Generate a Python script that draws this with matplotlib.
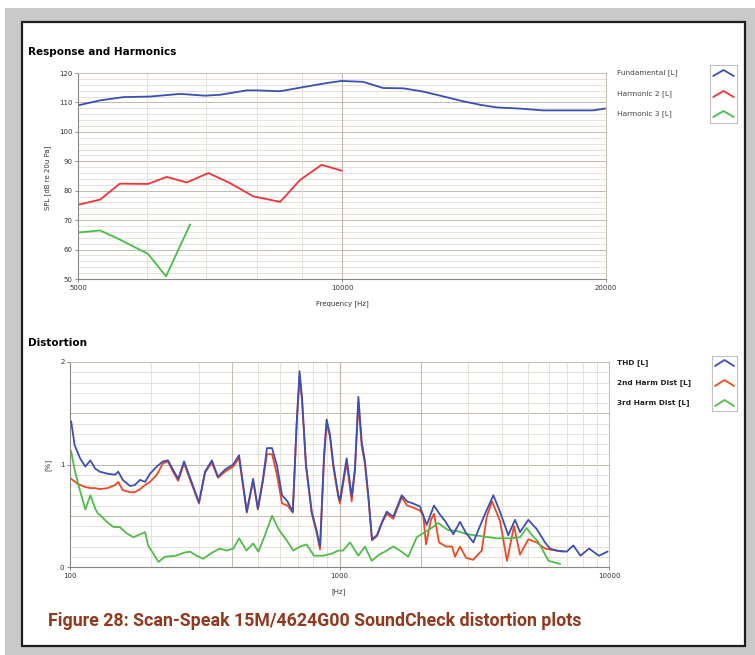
import matplotlib

matplotlib.use("Agg")
import matplotlib.pyplot as plt
from matplotlib.patches import Rectangle
from matplotlib.ticker import NullLocator

W, H = 755, 655

# --- Response and Harmonics (Hz, dB SPL) ---
fund_hz = [5000, 5300, 5630, 6040, 6540, 6980, 7260, 7790, 7990, 8500, 9030, 9610, 9990,
           10570, 11140, 11740, 12370, 12940, 13740, 14370, 15020, 15960, 16950, 17870, 19330, 19950]
fund_db = [109.0, 110.7, 111.8, 112.0, 112.9, 112.3, 112.6, 114.1, 114.1, 113.8, 115.2, 116.6, 117.3,
           117.0, 114.9, 114.8, 113.7, 112.3, 110.4, 109.2, 108.3, 107.9, 107.3, 107.3, 107.3, 107.9]
h2_hz = [5000, 5300, 5580, 6010, 6310, 6650, 7040, 7450, 7920, 8500, 8960, 9480, 9990]
h2_db = [75.2, 77.0, 82.4, 82.3, 84.7, 82.8, 86.0, 82.6, 78.1, 76.2, 83.7, 88.8, 86.8]
h3_hz = [5000, 5300, 5580, 6010, 6300, 6710]
h3_db = [65.8, 66.5, 63.4, 58.5, 50.9, 68.5]

# --- Distortion (Hz, %) ---
thd_hz = [101, 104, 109, 114, 119, 124, 129, 138, 147, 151, 157, 167, 174, 182, 190, 198, 210, 221,
          231, 241, 252, 265, 279, 301, 317, 336, 354, 376, 403, 424, 453, 478, 498, 520, 538, 562,
          586, 612, 641, 671, 694, 711, 726, 751, 789, 818, 847, 876, 896, 922, 949, 990, 1004, 1063,
          1110, 1141, 1175, 1209, 1243, 1279, 1320, 1377, 1438, 1497, 1583, 1702, 1781, 1874, 1989,
          2107, 2242, 2360, 2463, 2645, 2800, 2935, 3137, 3418, 3722, 3940, 4229, 4480, 4676, 5019,
          5393, 5787, 6040, 6397, 6968, 7373, 7840, 8430, 9182, 9872]
thd_pct = [1.42, 1.19, 1.06, 0.98, 1.04, 0.96, 0.93, 0.91, 0.90, 0.93, 0.85, 0.79, 0.80, 0.85, 0.83,
           0.91, 0.98, 1.03, 1.04, 0.95, 0.86, 1.03, 0.87, 0.63, 0.93, 1.04, 0.88, 0.95, 1.00, 1.09,
           0.54, 0.86, 0.57, 0.86, 1.16, 1.16, 0.99, 0.70, 0.64, 0.54, 1.42, 1.91, 1.65, 1.00, 0.54,
           0.38, 0.20, 1.09, 1.44, 1.29, 1.00, 0.70, 0.65, 1.06, 0.69, 0.96, 1.66, 1.22, 1.03, 0.70,
           0.27, 0.31, 0.44, 0.54, 0.49, 0.70, 0.64, 0.62, 0.59, 0.41, 0.60, 0.51, 0.45, 0.32, 0.44,
           0.34, 0.24, 0.48, 0.70, 0.54, 0.31, 0.46, 0.34, 0.46, 0.37, 0.24, 0.18, 0.16, 0.15, 0.21,
           0.11, 0.18, 0.11, 0.15]
d2_hz = [101, 107, 114, 119, 124, 129, 138, 147, 151, 157, 167, 174, 182, 190, 198, 210, 221, 231,
         241, 252, 265, 279, 301, 317, 336, 354, 376, 403, 424, 453, 478, 498, 520, 538, 562, 586,
         612, 641, 671, 694, 711, 726, 751, 789, 818, 847, 876, 896, 922, 949, 990, 1004, 1063, 1110,
         1141, 1175, 1209, 1243, 1279, 1320, 1377, 1438, 1497, 1583, 1702, 1781, 1874, 1989, 2046,
         2094, 2185, 2242, 2340, 2485, 2615, 2683, 2800, 2948, 3130, 3371, 3518, 3681, 3940, 4183,
         4442, 4676, 5019, 5393, 5787, 6040, 6397, 6750]
d2_pct = [0.86, 0.81, 0.78, 0.77, 0.77, 0.76, 0.77, 0.80, 0.83, 0.75, 0.73, 0.73, 0.76, 0.80, 0.83,
          0.90, 1.01, 1.03, 0.93, 0.84, 1.01, 0.85, 0.62, 0.92, 1.02, 0.87, 0.93, 0.98, 1.06, 0.53,
          0.84, 0.56, 0.84, 1.10, 1.10, 0.90, 0.62, 0.60, 0.53, 1.40, 1.85, 1.62, 0.98, 0.52, 0.36,
          0.17, 1.05, 1.40, 1.27, 0.97, 0.68, 0.62, 1.02, 0.64, 0.94, 1.60, 1.18, 1.00, 0.68, 0.26,
          0.30, 0.43, 0.52, 0.47, 0.68, 0.60, 0.58, 0.55, 0.50, 0.22, 0.46, 0.52, 0.24, 0.20, 0.20,
          0.10, 0.20, 0.09, 0.07, 0.16, 0.49, 0.64, 0.45, 0.06, 0.40, 0.12, 0.27, 0.24, 0.18, 0.17,
          0.16, 0.15]
d3_hz = [101, 104, 107, 114, 119, 124, 127, 129, 137, 145, 153, 162, 172, 182, 190, 195, 213, 225,
         247, 265, 279, 295, 312, 337, 360, 381, 404, 424, 452, 478, 500, 529, 562, 597, 637, 674,
         714, 755, 804, 869, 936, 990, 1030, 1094, 1175, 1243, 1317, 1402, 1475, 1583, 1677, 1800,
         1935, 2046, 2167, 2326, 2463, 2533, 2741, 2965, 3371, 3831, 4291, 4676, 4950, 5180, 5450,
         5964, 6580]
d3_pct = [1.13, 0.95, 0.82, 0.56, 0.70, 0.57, 0.52, 0.51, 0.44, 0.39, 0.39, 0.33, 0.29, 0.32, 0.34,
          0.21, 0.05, 0.10, 0.11, 0.14, 0.15, 0.11, 0.08, 0.14, 0.18, 0.16, 0.18, 0.28, 0.16, 0.23,
          0.15, 0.31, 0.50, 0.36, 0.26, 0.16, 0.20, 0.22, 0.11, 0.11, 0.13, 0.16, 0.16, 0.24, 0.11,
          0.20, 0.06, 0.12, 0.15, 0.20, 0.16, 0.10, 0.29, 0.33, 0.37, 0.43, 0.38, 0.36, 0.35, 0.32,
          0.30, 0.28, 0.28, 0.29, 0.38, 0.31, 0.25, 0.06, 0.03]

top_xticks = [5000, 10000, 20000]
top_xgrid = [6000, 7000, 8000, 9000]
top_yticks = [50, 60, 70, 80, 90, 100, 110, 120]
bot_xticks = [100, 1000, 10000]
bot_xgrid = [200, 300, 400, 500, 600, 700, 800, 900, 2000, 3000, 4000, 5000, 6000, 7000, 8000, 9000]
bot_yticks = [0, 1, 2]

top_names = ["Fundamental [L]", "Harmonic 2 [L]", "Harmonic 3 [L]"]
top_colors = ["#3b4fb3", "#f0323c", "#45bf45"]
bot_names = ["THD [L]", "2nd Harm Dist [L]", "3rd Harm Dist [L]"]
bot_colors = ["#3d4fb0", "#ec4a25", "#52bb4a"]
caption = "Figure 28: Scan-Speak 15M/4624G00 SoundCheck distortion plots"

GRID_LIGHT = "#e6e1d8"
GRID_DARK = "#c2b9ac"


def box(x0, y0, x1, y1):
    # pixel box (top-left origin) -> figure fraction rect
    return [x0 / W, 1 - y1 / H, (x1 - x0) / W, (y1 - y0) / H]


def fx(x):
    return x / W


def fy(y):
    return 1 - y / H


def style_axes(ax):
    for side in ["top", "right"]:
        ax.spines[side].set_color("#c8c0b4")
    for side in ["left", "bottom"]:
        ax.spines[side].set_color("#8a8580")
    for s in ax.spines.values():
        s.set_linewidth(0.8)
    ax.tick_params(axis="both", length=2.5, width=0.6, color="#777777", labelsize=5, pad=1.5,
                   labelcolor="#333333")
    ax.xaxis.set_minor_locator(NullLocator())
    ax.yaxis.set_minor_locator(NullLocator())


def legend_icons(rect, rows, colors):
    ax = fig.add_axes(rect)
    ax.set_xlim(0, 1)
    ax.set_ylim(rect[1] * H, (rect[1] + rect[3]) * H)
    ax.set_xticks([])
    ax.set_yticks([])
    for s in ax.spines.values():
        s.set_color("#c0c0c0")
        s.set_linewidth(0.8)
    for row, c in zip(rows, colors):
        yc = (1 - row / H) * H
        ax.plot([0.12, 0.5, 0.88], [yc - 3, yc + 3, yc - 3], color=c, lw=1.3,
                solid_capstyle="round", solid_joinstyle="round")


fig = plt.figure(figsize=(W / 100, H / 100), dpi=100)
fig.patch.set_facecolor("white")

# page background and white panel
fig.patches.append(Rectangle((fx(5), 0), 1 - fx(5), fy(8), transform=fig.transFigure,
                             facecolor="#c9c9c9", edgecolor="none", zorder=-3))
fig.patches.append(Rectangle((fx(22), fy(646)), fx(745) - fx(22), fy(22) - fy(646),
                             transform=fig.transFigure, facecolor="white", edgecolor="#1e1e1e",
                             linewidth=1.6, zorder=-2))

# ---------- Response and Harmonics ----------
ax1 = fig.add_axes(box(78, 73, 606, 279))
ax1.set_xscale("log", base=2)
ax1.set_xlim(5000, 20000)
ax1.set_ylim(50, 120)
for y in range(52, 120, 2):
    ax1.axhline(y, color=GRID_DARK if y % 10 == 0 else GRID_LIGHT, lw=0.7, zorder=0)
for f in top_xgrid:
    ax1.axvline(f, color=GRID_LIGHT, lw=0.7, zorder=0)
ax1.axvline(10000, color=GRID_DARK, lw=0.8, zorder=0)
ax1.plot(fund_hz, fund_db, color=top_colors[0], lw=1.3)
ax1.plot(h2_hz, h2_db, color=top_colors[1], lw=1.3)
ax1.plot(h3_hz, h3_db, color=top_colors[2], lw=1.3)
ax1.set_xticks(top_xticks, labels=[str(v) for v in top_xticks])
ax1.set_yticks(top_yticks, labels=[str(v) for v in top_yticks])
style_axes(ax1)

fig.text(fx(28), fy(52), "Response and Harmonics", fontsize=7.5, fontweight="bold", va="center")
fig.text(fx(342), fy(304), "Frequency [Hz]", fontsize=5, ha="center", va="center", color="#333333")
fig.text(fx(48), fy(178), "SPL [dB re 20u Pa]", fontsize=5, rotation=90, ha="center", va="center",
         color="#333333")

top_rows = [73, 94, 114]
for name, row in zip(top_names, top_rows):
    fig.text(fx(617), fy(row), name, fontsize=5.3, va="center", color="#444444")
legend_icons(box(710, 65, 737, 123), top_rows, top_colors)

# ---------- Distortion ----------
ax2 = fig.add_axes(box(70, 362, 609, 567))
ax2.set_xscale("log")
ax2.set_xlim(100, 10000)
ax2.set_ylim(0, 2)
for i in range(1, 20):
    ax2.axhline(i / 10, color=GRID_DARK if i % 5 == 0 else GRID_LIGHT, lw=0.7, zorder=0)
for f in bot_xgrid:
    ax2.axvline(f, color=GRID_DARK if f in (400, 2000) else GRID_LIGHT, lw=0.7, zorder=0)
ax2.axvline(1000, color=GRID_DARK, lw=0.9, zorder=0)
ax2.plot(thd_hz, thd_pct, color=bot_colors[0], lw=1.3, zorder=3)
ax2.plot(d2_hz, d2_pct, color=bot_colors[1], lw=1.3, zorder=2)
ax2.plot(d3_hz, d3_pct, color=bot_colors[2], lw=1.3, zorder=2)
ax2.set_xticks(bot_xticks, labels=[str(v) for v in bot_xticks])
ax2.set_yticks(bot_yticks, labels=[str(v) for v in bot_yticks])
style_axes(ax2)

fig.text(fx(28), fy(343), "Distortion", fontsize=7.5, fontweight="bold", va="center")
fig.text(fx(339), fy(592), "[Hz]", fontsize=5, ha="center", va="center", color="#333333")
fig.text(fx(48), fy(465), "[%]", fontsize=5, rotation=90, ha="center", va="center", color="#333333")

bot_rows = [363, 383, 403]
for name, row in zip(bot_names, bot_rows):
    fig.text(fx(617), fy(row), name, fontsize=5.3, fontweight="bold", va="center", color="#222222")
legend_icons(box(712, 356, 737, 411), bot_rows, bot_colors)

fig.text(fx(48), fy(621), caption, fontsize=12.8, fontweight="bold", va="center", color="#90391f",
         family="Roboto", fontstretch="condensed")

fig.savefig("out.png", dpi=100)
